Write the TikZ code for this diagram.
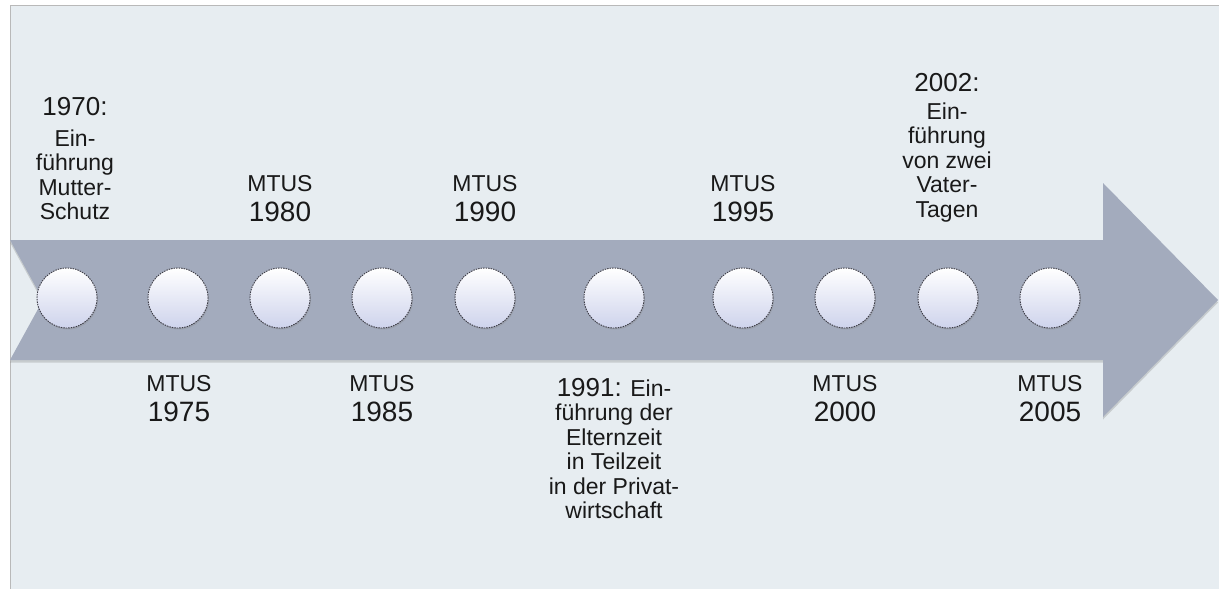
\documentclass[tikz,border=0pt]{standalone}
\usepackage{fontspec}
\setmainfont{Liberation Sans}
\usetikzlibrary{shadows}
\definecolor{panelbg}{RGB}{231,237,241}
\definecolor{panelline}{RGB}{185,185,185}
\definecolor{arrowfill}{RGB}{163,171,189}
\definecolor{discbottom}{RGB}{206,211,236}
\definecolor{discline}{RGB}{60,60,70}
\definecolor{txt}{RGB}{25,25,25}
\newcommand\yrbig{\fontsize{26}{24.5}\selectfont}
\newcommand\yrmtus{\fontsize{28}{24.5}\selectfont}
\tikzset{
  disc/.style={circle, minimum size=60pt, inner sep=0pt,
    top color=white, bottom color=discbottom,
    draw=discline, dash pattern=on 1.5pt off 1pt, line width=0.9pt,
    drop shadow={opacity=0.25, shadow xshift=1pt, shadow yshift=-1.5pt}},
  lbl/.style={align=center, inner sep=0pt, text=txt,
    font=\fontsize{23}{24.5}\selectfont, anchor=north},
}
\begin{document}
\begin{tikzpicture}[x=1pt,y=-1pt]
\useasboundingbox (0,0) rectangle (1219,589);
\fill[white] (0,0) rectangle (1219,589);
\fill[panelbg] (10,5) rectangle (1219,589);
\draw[panelline, line width=1pt] (10,589) -- (10,5) -- (1219,5);
% arrow
\fill[arrowfill, drop shadow={opacity=0.3, shadow xshift=0pt, shadow yshift=-2.5pt}]
  (10,240) -- (1103,240) -- (1103,183) -- (1218,300) -- (1103,417)
  -- (1103,360) -- (10,360) -- (43,300) -- cycle;
% discs
\foreach \n/\x in {1/67,2/178,3/280,4/382,5/485,6/614,7/743,8/845,9/948,10/1050}
  \node[disc] (c\n) at (\x,298) {};
% labels above
\node[lbl] (l1) at (75,97) {{\yrbig 1970:}\\[6.5pt] Ein-\\ führung\\ Mutter-\\ Schutz};
\node[lbl] (l3) at (280,175) {MTUS\\[6pt] {\yrmtus 1980}};
\node[lbl] (l5) at (485,175) {MTUS\\[6pt] {\yrmtus 1990}};
\node[lbl] (l7) at (743,175) {MTUS\\[6pt] {\yrmtus 1995}};
\node[lbl] (l9) at (947,73) {{\yrbig 2002:}\\[3.5pt] Ein-\\ führung\\ von zwei\\ Vater-\\ Tagen};
% labels below
\node[lbl] (l2) at (179,375) {MTUS\\[6pt] {\yrmtus 1975}};
\node[lbl] (l4) at (382,375) {MTUS\\[6pt] {\yrmtus 1985}};
\node[lbl] (l6) at (614,378) {{\yrbig 1991:} Ein-\\[0pt] führung der\\ Elternzeit\\ in Teilzeit\\ in der Privat-\\ wirtschaft};
\node[lbl] (l8) at (845,375) {MTUS\\[6pt] {\yrmtus 2000}};
\node[lbl] (l10) at (1050,375) {MTUS\\[6pt] {\yrmtus 2005}};
\end{tikzpicture}
\end{document}
